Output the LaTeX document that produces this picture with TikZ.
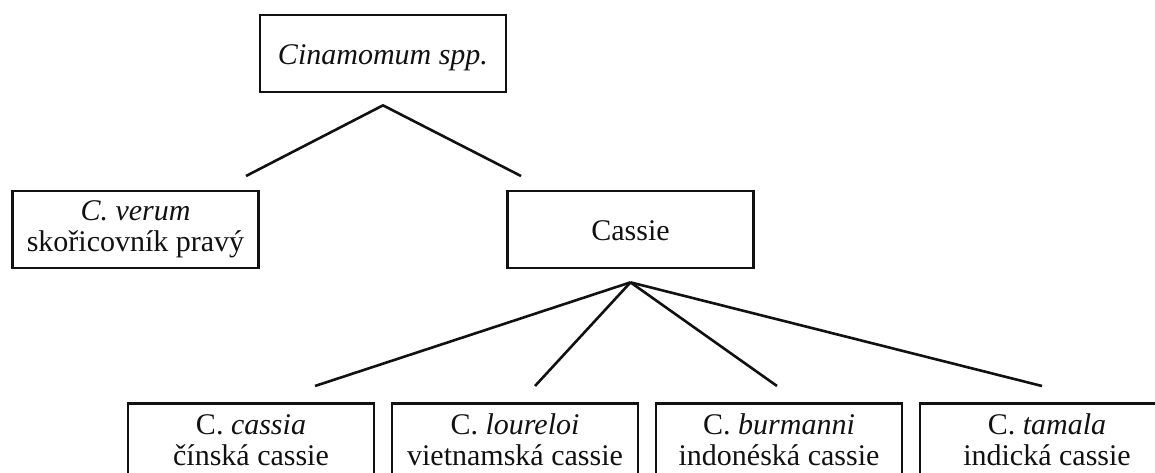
\documentclass[tikz,border=0pt]{standalone}
\usepackage{fontspec}
\setmainfont{Liberation Serif}
\usepackage{tikz}
\usetikzlibrary{calc}
\definecolor{ink}{HTML}{111111}
\tikzset{
  box/.style={draw=ink, line width=2.7pt, minimum width=246pt, inner sep=0pt,
    align=center, text=ink, font=\fontsize{30}{31}\selectfont},
  onebox/.style={box, minimum height=77pt, text height=22pt, text depth=0pt},
  twobox/.style={box, minimum height=77pt},
  leafbox/.style={box, minimum height=80pt, anchor=north},
  link/.style={draw=ink, line width=2.6pt, line join=miter}
}

\begin{document}
\begin{tikzpicture}[x=1pt, y=-1pt]
  \useasboundingbox (0,0) rectangle (1155,473);
  \clip (0,0) rectangle (1155,473);

  \node[onebox] (genus) at (383,53.5) {\textit{Cinamomum spp.}};
  \node[twobox] (verum) at (135.5,229.5) {\textit{C. verum}\strut\\skořicovník pravý\strut};
  \node[onebox] (cassie) at (630.5,229.5) {Cassie};

  \node[leafbox] (cassia) at (251,402) {C. \textit{cassia}\strut\\čínská cassie\strut};
  \node[leafbox] (loureloi) at (515,402) {C. \textit{loureloi}\strut\\vietnamská cassie\strut};
  \node[leafbox] (burmanni) at (779,402) {C. \textit{burmanni}\strut\\indonéská cassie\strut};
  \node[leafbox, minimum width=254pt] (tamala) at (1047,402) {C. \textit{tamala}\strut\\indická cassie\strut};

  \coordinate (forkTop) at ($(genus.south)+(0,12)$);
  \coordinate (tipVerum) at (246,176);
  \coordinate (tipCassie) at (521,176);
  \draw[link] (tipVerum) -- (forkTop) -- (tipCassie);

  \coordinate (forkLow) at ($(cassie.south)+(0,13)$);
  \coordinate (tipCassia) at (315,386);
  \coordinate (tipLoureloi) at (535,386);
  \coordinate (tipBurmanni) at (777,386);
  \coordinate (tipTamala) at (1042,386);
  \draw[link] (forkLow) -- (tipCassia);
  \draw[link] (forkLow) -- (tipLoureloi);
  \draw[link] (forkLow) -- (tipBurmanni);
  \draw[link] (forkLow) -- (tipTamala);
\end{tikzpicture}
\end{document}
